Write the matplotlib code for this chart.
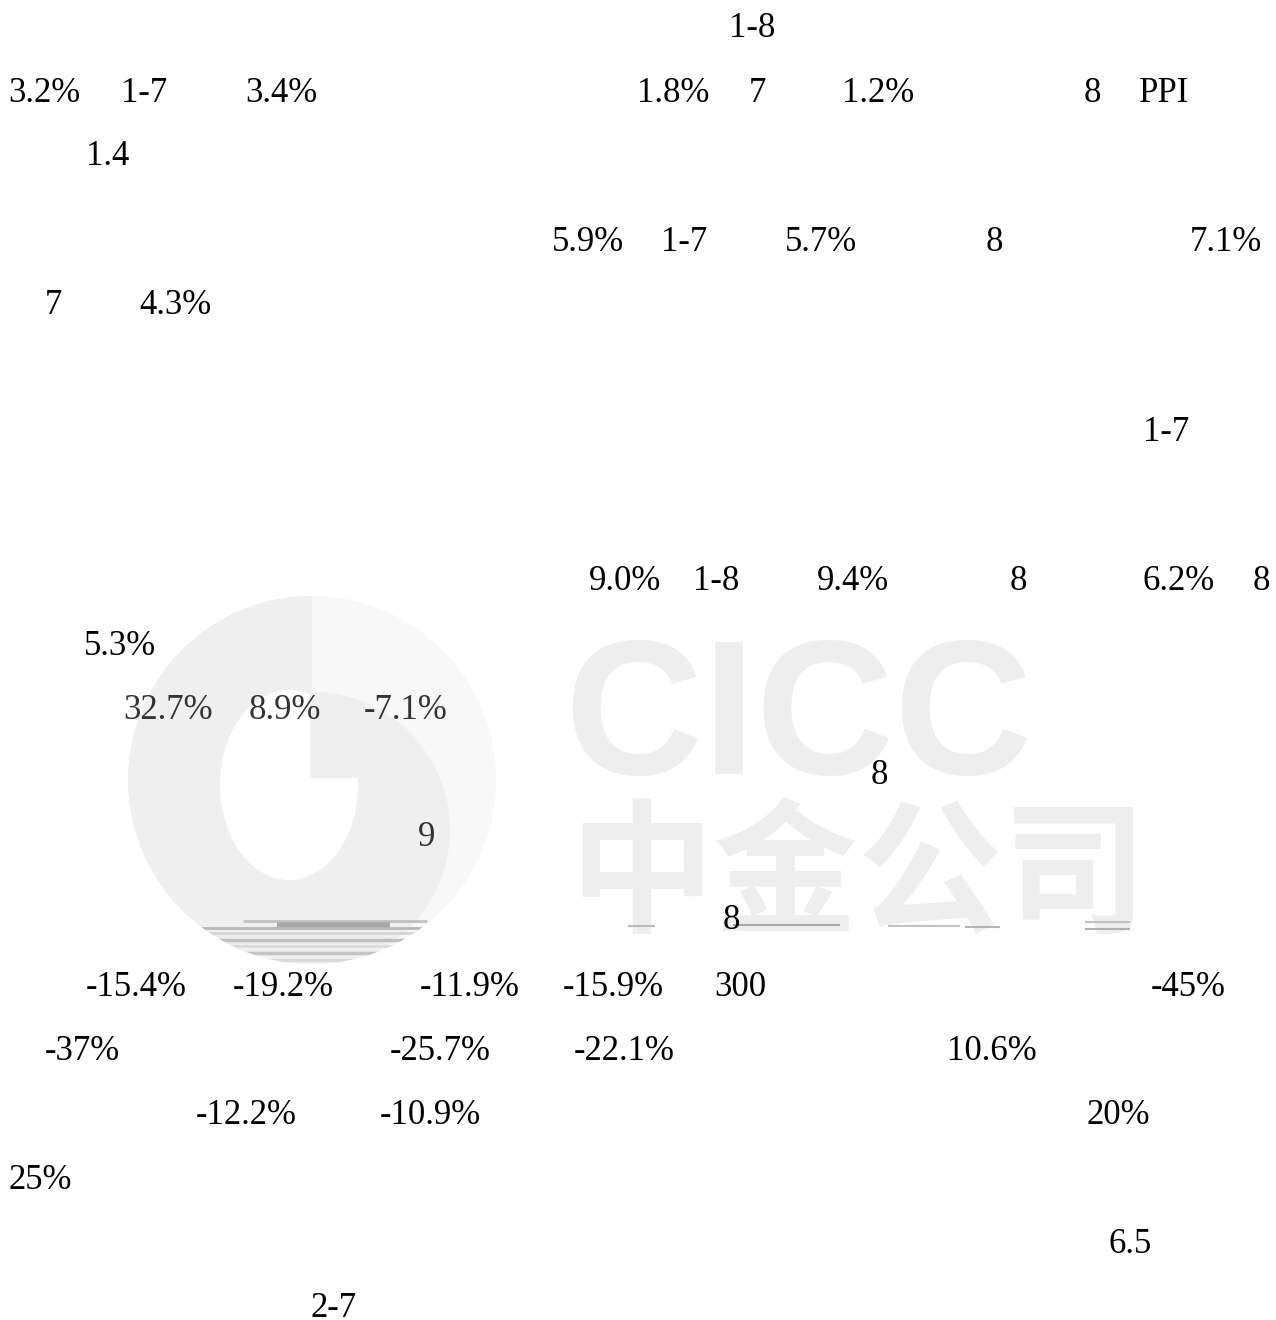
import matplotlib
matplotlib.use("Agg")
import matplotlib.pyplot as plt
from matplotlib.patches import Circle, Wedge, Ellipse, Rectangle

# ---- data: visible text fragments of the page (row centre y, [(left x, text)]) ----
row_1 = (26, [(729, "1-8")])
row_2 = (91, [(8, "3.2%"), (121, "1-7"), (245, "3.4%"), (637, "1.8%"), (749, "7"),
              (842, "1.2%"), (1084, "8"), (1139, "PPI")])
row_3 = (154, [(86, "1.4")])
row_4 = (240, [(552, "5.9%"), (661, "1-7"), (785, "5.7%"), (986, "8"), (1190, "7.1%")])
row_5 = (303, [(45, "7"), (139, "4.3%")])
row_6 = (430, [(1143, "1-7")])
row_7 = (579, [(589, "9.0%"), (693, "1-8"), (817, "9.4%"), (1010, "8"), (1143, "6.2%"), (1253, "8")])
row_8 = (644, [(84, "5.3%")])
row_9 = (708, [(123, "32.7%"), (249, "8.9%"), (364, "-7.1%")])
row_10 = (773, [(871, "8")])
row_11 = (835, [(418, "9")])
row_12 = (918, [(723, "8")])
row_13 = (985, [(86, "-15.4%"), (233, "-19.2%"), (420, "-11.9%"), (563, "-15.9%"),
                (714, "300"), (1151, "-45%")])
row_14 = (1049, [(45, "-37%"), (390, "-25.7%"), (574, "-22.1%"), (947, "10.6%")])
row_15 = (1113, [(196, "-12.2%"), (380, "-10.9%"), (1086, "20%")])
row_16 = (1178, [(8, "25%")])
row_17 = (1242, [(1109, "6.5")])
row_18 = (1306, [(310, "2-7")])
rows = [row_1, row_2, row_3, row_4, row_5, row_6, row_7, row_8, row_9, row_10,
        row_11, row_12, row_13, row_14, row_15, row_16, row_17, row_18]
gray_rows = [row_9, row_11]

W, H = 1276, 1320
fig = plt.figure(figsize=(W / 100, H / 100), dpi=100)
ax = fig.add_axes([0, 0, 1, 1])
ax.set_xlim(0, W)
ax.set_ylim(H, 0)
ax.axis("off")

# ---- watermark logo ----
mid = "#efefef"
light = "#f8f8f8"
cx, cy, r = 312, 780, 184
outer = Circle((cx, cy), r, color=light, zorder=1, lw=0)
ax.add_patch(outer)
left_half = Wedge((cx, cy), r, 90, 270, color=mid, zorder=1.1, lw=0)
ax.add_patch(left_half)
inner = Circle((cx, cy + 50), 138, color=mid, zorder=1.2, lw=0)
ax.add_patch(inner)
inner.set_clip_path(outer)
hole = Ellipse((289, 785), 138, 190, color="white", zorder=1.3, lw=0)
ax.add_patch(hole)
notch = Rectangle((310, 680), 70, 98, color=mid, zorder=1.4, lw=0)
ax.add_patch(notch)
notch.set_clip_path(inner)

# striped artefacts at bottom of logo
for (x0, x1, yy, c, lw) in [(243, 427, 921, "#c0c0c0", 2.0), (277, 390, 925, "#a8a8a8", 4.0),
                            (193, 427, 928, "#b8b8b8", 2.0), (195, 425, 933, "#d4d4d4", 2.0),
                            (197, 413, 940, "#c0c0c0", 2.5), (215, 400, 946, "#dadada", 2.0),
                            (233, 387, 953, "#c4c4c4", 2.5), (260, 360, 960, "#d8d8d8", 2.0)]:
    ln, = ax.plot([x0, x1], [yy, yy], color=c, lw=lw, zorder=4, solid_capstyle="butt")
    ln.set_clip_path(outer)

ax.text(564, 774, "CICC", fontsize=138, fontweight="bold", family="Liberation Sans",
        color="#eeeeee", ha="left", va="baseline", zorder=1)
ax.text(569, 921, "中金公司", fontsize=104, fontweight="bold",
        family=["Noto Sans CJK SC", "DejaVu Sans"], color="#eeeeee",
        ha="left", va="baseline", zorder=1)
for (x0, x1, yy, c) in [(628, 655, 926, "#b9b9b9"), (733, 840, 925, "#a9a9a9"),
                        (888, 960, 926, "#c2c2c2"), (965, 1000, 927, "#b5b5b5"),
                        (1085, 1130, 922, "#c0c0c0"), (1085, 1130, 929, "#b0b0b0")]:
    ax.plot([x0, x1], [yy, yy], color=c, lw=1.5, zorder=4, solid_capstyle="butt")

# ---- text ----
for row in rows:
    y, items = row
    col = "#333333" if any(row is g for g in gray_rows) else "black"
    for x, t in items:
        ax.text(x, y + 11, t, fontsize=25, family="Liberation Serif", color=col,
                ha="left", va="baseline", zorder=5)

fig.savefig("out.png", dpi=100, facecolor="white")
